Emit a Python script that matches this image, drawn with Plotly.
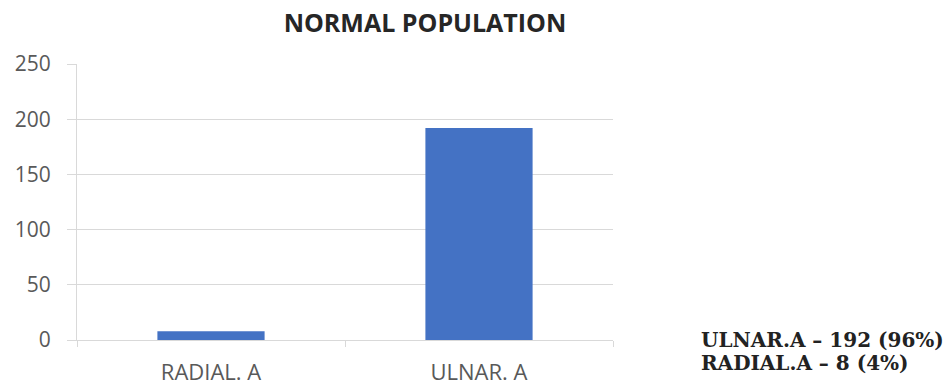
import plotly.graph_objects as go

# Artery supplying the dominant side, counts in the normal population
categories = ["RADIAL. A", "ULNAR. A"]
counts = [8, 192]
y_ticks = [0, 50, 100, 150, 200, 250]
summary_lines = ["ULNAR.A – 192 (96%)", "RADIAL.A – 8 (4%)"]

axis_grey = "#d9d9d9"
label_grey = "#595959"

fig = go.Figure(
    go.Bar(
        x=categories,
        y=counts,
        width=0.4,
        marker=dict(color="#4472c4", line=dict(width=0)),
        hoverinfo="x+y",
    )
)

fig.update_layout(
    width=944,
    height=385,
    margin=dict(l=77, r=331, t=64, b=45),
    paper_bgcolor="white",
    plot_bgcolor="white",
    showlegend=False,
    title=dict(
        text="<b>NORMAL POPULATION</b>",
        x=425 / 944,
        xanchor="center",
        y=1 - 23 / 385,
        yanchor="middle",
        font=dict(family="Open Sans", size=25, color="#262626"),
    ),
)

fig.update_xaxes(
    type="category",
    range=[-0.5, 1.5],
    automargin=False,
    showgrid=False,
    showline=True,
    linecolor=axis_grey,
    linewidth=1,
    ticks="outside",
    tickson="boundaries",
    ticklen=6,
    tickcolor=axis_grey,
    tickfont=dict(family="Open Sans", size=22, color=label_grey),
    ticklabelstandoff=13,
)

fig.update_yaxes(
    range=[0, 250],
    tickvals=y_ticks,
    automargin=False,
    showgrid=True,
    gridcolor=axis_grey,
    gridwidth=1,
    showline=True,
    linecolor=axis_grey,
    linewidth=1,
    zeroline=False,
    ticks="outside",
    ticklen=9,
    tickcolor=axis_grey,
    tickfont=dict(family="Open Sans", size=21, color=label_grey),
    ticklabelstandoff=12,
)

for i, line in enumerate(summary_lines):
    fig.add_annotation(
        text="<b>" + line + "</b>",
        xref="paper",
        yref="paper",
        x=(699 - 77) / (944 - 77 - 331),
        y=-(340 - 340) / 276 - i * 23 / 276,
        xanchor="left",
        yanchor="middle",
        showarrow=False,
        font=dict(family="DejaVu Serif", size=20, color="#222222"),
    )

fig.write_html("out.html")
